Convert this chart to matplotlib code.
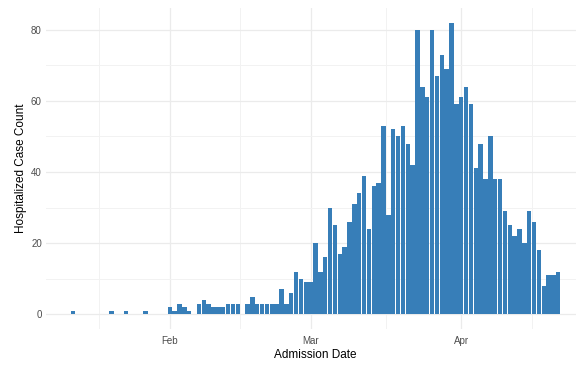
import numpy as np
import pandas as pd
import matplotlib
matplotlib.use('Agg')
import matplotlib.pyplot as plt
import matplotlib.dates as mdates

plt.rcParams['font.family'] = ['Liberation Sans', 'DejaVu Sans']

# daily hospitalized admissions, Jan 12 .. Apr 21 2020
start_date = '2020-01-12'
jan_counts = [1, 0, 0, 0, 0, 0, 0, 0, 1, 0, 0, 1, 0, 0, 0, 1, 0, 0, 0, 0]
feb_counts = [2, 1, 3, 2, 1, 0, 3, 4, 3, 2, 2, 2, 3, 3, 3, 0, 3, 5, 3, 3,
              3, 3, 3, 7, 3, 6, 12, 10, 9]
mar_counts = [9, 20, 12, 16, 30, 25, 17, 19, 26, 31, 34, 39, 24, 36, 37, 53,
              28, 52, 50, 53, 48, 42, 80, 64, 61, 80, 67, 73, 69, 82, 59]
apr_counts = [61, 64, 59, 41, 48, 38, 50, 38, 38, 29, 25, 22, 24, 20, 29, 26,
              18, 8, 11, 11, 12]

month_breaks = ['2020-02-01', '2020-03-01', '2020-04-01']
month_labels = ['Feb', 'Mar', 'Apr']

counts = np.array(jan_counts + feb_counts + mar_counts + apr_counts)
dates = pd.date_range(start_date, periods=len(counts), freq='D')
x = mdates.date2num(dates)

fig = plt.figure(figsize=(5.76, 3.67), dpi=100)
ax = fig.add_axes([46 / 576, 38 / 367, 539 / 576, 321 / 367])

keep = counts > 0
ax.bar(x[keep], counts[keep], width=0.9, color='#377EB8', zorder=2)

# ggplot-like expansion of 5%
lo, hi = x[0] - 0.45, x[-1] + 0.45
pad = 0.05 * (hi - lo)
ax.set_xlim(lo - pad, hi + pad)
ymax = counts.max()
ax.set_ylim(-0.05 * ymax, ymax * 1.05)

major = mdates.date2num(pd.to_datetime(month_breaks))
ax.set_xticks(major)
ax.set_xticklabels(month_labels)
step = major[1] - major[0]
ext = np.concatenate([[major[0] - step], major, [major[-1] + step]])
minor = (ext[:-1] + ext[1:]) / 2
ax.set_xticks(minor, minor=True)
ax.set_yticks(np.arange(0, 81, 20))
ax.set_yticks(np.arange(10, 80, 20), minor=True)

ax.grid(which='major', color='#EBEBEB', linewidth=0.9, zorder=0)
ax.grid(which='minor', color='#F2F2F2', linewidth=0.7, zorder=0)
ax.set_axisbelow(True)
for s in ax.spines.values():
    s.set_visible(False)
ax.tick_params(which='both', length=0)
ax.tick_params(axis='x', pad=5, labelsize=7, labelcolor='#4D4D4D')
ax.tick_params(axis='y', pad=3, labelsize=7, labelcolor='#4D4D4D')

ax.set_xlabel('Admission Date', fontsize=8.5, labelpad=2.5)
ax.set_ylabel('Hospitalized Case Count', fontsize=8.5, labelpad=3)

fig.savefig('out.png', dpi=100)
